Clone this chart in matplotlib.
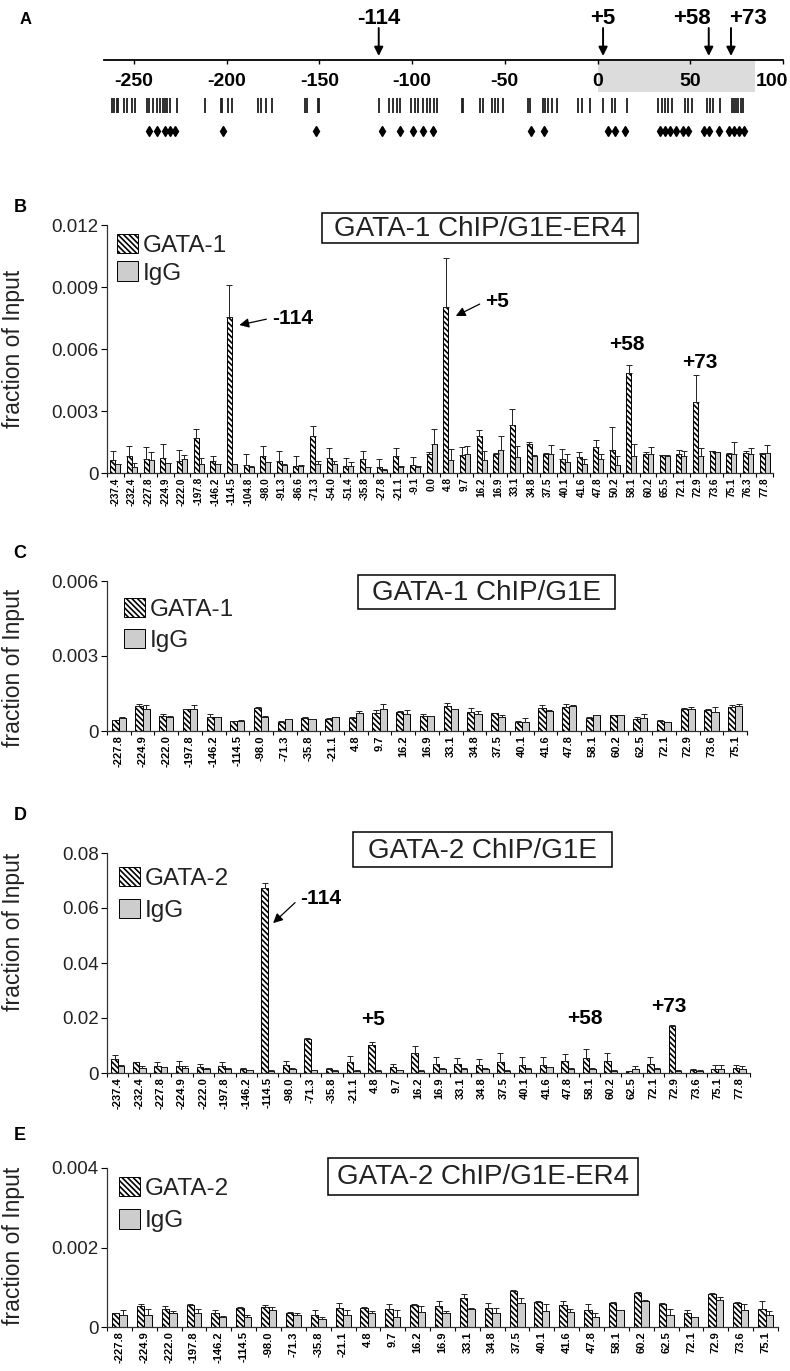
import numpy as np
import matplotlib
matplotlib.use("Agg")
import matplotlib.pyplot as plt

plt.rcParams['font.family'] = ['Liberation Sans', 'DejaVu Sans']
plt.rcParams['hatch.linewidth'] = 1.2

W, H = 790, 1371

# ---- panel A: map of the locus (kb) ----
a_ticks = [-250, -200, -150, -100, -50, 0, 50, 100]
a_site_pos = [-118, 3, 60, 72]
a_site_labels = ['-114', '+5', '+58', '+73']
a_shaded = (0, 85)
a_row1 = [-262.0, -260.8, -259.3, -258.5, -255.2, -253.6, -250.9, -249.5, -243.2, -241.7,
          -239.6, -237.8, -236.0, -234.5, -233.3, -232.0, -230.6, -226.6, -211.7, -203.1,
          -202.4, -199.5, -197.0, -183.0, -181.7, -179.0, -175.7, -157.8, -156.9, -150.6,
          -150.1, -117.7, -112.5, -110.5, -108.3, -106.5, -100.6, -98.4, -96.7, -94.0,
          -92.1, -90.3, -88.2, -86.4, -73.2, -72.7, -63.4, -61.6, -57.1, -55.3, -53.5,
          -50.8, -37.3, -36.4, -29.2, -28.3, -26.5, -24.7, -22.0, -10.4, -8.5, -4.0, 3.1,
          7.7, 9.4, 15.7, 32.8, 34.6, 36.4, 38.2, 40.0, 47.2, 49.0, 50.8, 58.9, 60.7,
          62.5, 66.1, 72.4, 73.6, 74.7, 75.9, 77.2, 78.6]
a_row2 = [-241.9, -237.6, -233.5, -230.8, -228.0, -202.1, -151.6, -116.2, -106.5, -99.7,
          -94.2, -88.7, -36.1, -28.9, 5.4, 9.4, 14.8, 33.7, 36.4, 39.1, 42.3, 46.1, 48.8,
          57.4, 60.1, 65.5, 70.9, 73.6, 76.3, 79.0]

# ---- panel B: GATA-1 ChIP / G1E-ER4 ----
b_pos = ['-237.4', '-232.4', '-227.8', '-224.9', '-222.0', '-197.8', '-146.2', '-114.5',
         '-104.8', '-98.0', '-91.3', '-86.6', '-71.3', '-54.0', '-51.4', '-35.8', '-27.8',
         '-21.1', '-9.1', '0.0', '4.8', '9.7', '16.2', '16.9', '33.1', '34.8', '37.5',
         '40.1', '41.6', '47.8', '50.2', '58.1', '60.2', '65.5', '72.1', '72.9', '73.6',
         '75.1', '76.3', '77.8']
b_gata = [0.00063, 0.00083, 0.00067, 0.00075, 0.00060, 0.00169, 0.00056, 0.00756, 0.00040,
          0.00083, 0.00056, 0.00035, 0.00180, 0.00075, 0.00032, 0.00067, 0.00027, 0.00083,
          0.00039, 0.00094, 0.00805, 0.00086, 0.00178, 0.00094, 0.00231, 0.00139, 0.00094,
          0.00068, 0.00078, 0.00126, 0.00113, 0.00485, 0.00090, 0.00086, 0.00090, 0.00344,
          0.00105, 0.00094, 0.00097, 0.00094]
b_gata_err = [0.00045, 0.00049, 0.00057, 0.00065, 0.00050, 0.00043, 0.00027, 0.00154,
              0.00051, 0.00049, 0.00052, 0.00048, 0.00048, 0.00045, 0.00043, 0.00041,
              0.00043, 0.00037, 0.00040, 0.00006, 0.00234, 0.00040, 0.00032, 0.00003,
              0.00081, 0.00011, 0.00003, 0.00050, 0.00024, 0.00036, 0.00110, 0.00037,
              0.00012, 0.00002, 0.00020, 0.00129, 0.00003, 0.00004, 0.00010, 0.00004]
b_igg = [0.00043, 0.00027, 0.00063, 0.00048, 0.00067, 0.00043, 0.00043, 0.00043, 0.00030,
         0.00051, 0.00040, 0.00035, 0.00043, 0.00043, 0.00035, 0.00027, 0.00016, 0.00030,
         0.00030, 0.00139, 0.00065, 0.00090, 0.00061, 0.00113, 0.00078, 0.00081, 0.00094,
         0.00052, 0.00045, 0.00068, 0.00037, 0.00081, 0.00094, 0.00084, 0.00081, 0.00084,
         0.00102, 0.00094, 0.00094, 0.00097]
b_igg_err = [0.00002, 0.00020, 0.00037, 0.00002, 0.00020, 0.00032, 0.00002, 0.00002,
             0.00002, 0.00002, 0.00002, 0.00002, 0.00017, 0.00017, 0.00016, 0.00002,
             0.00002, 0.00002, 0.00002, 0.00073, 0.00053, 0.00039, 0.00046, 0.00065,
             0.00051, 0.00005, 0.00040, 0.00042, 0.00024, 0.00026, 0.00044, 0.00061,
             0.00032, 0.00002, 0.00026, 0.00039, 0.00002, 0.00056, 0.00027, 0.00037]

# ---- panel C: GATA-1 ChIP / G1E ----
c_pos = ['-227.8', '-224.9', '-222.0', '-197.8', '-146.2', '-114.5', '-98.0', '-71.3',
         '-35.8', '-21.1', '4.8', '9.7', '16.2', '16.9', '33.1', '34.8', '37.5', '40.1',
         '41.6', '47.8', '58.1', '60.2', '62.5', '72.1', '72.9', '73.6', '75.1']
c_gata = [0.00044, 0.00100, 0.00061, 0.00087, 0.00057, 0.00040, 0.00091, 0.00035, 0.00051,
          0.00048, 0.00053, 0.00071, 0.00077, 0.00061, 0.00100, 0.00077, 0.00071, 0.00037,
          0.00093, 0.00095, 0.00053, 0.00064, 0.00048, 0.00040, 0.00087, 0.00084, 0.00095]
c_gata_err = [0.00002, 0.00010, 0.00009, 0.00002, 0.00010, 0.00002, 0.00007, 0.00005,
              0.00007, 0.00005, 0.00002, 0.00013, 0.00002, 0.00009, 0.00013, 0.00014,
              0.00002, 0.00002, 0.00011, 0.00015, 0.00002, 0.00002, 0.00007, 0.00004,
              0.00004, 0.00004, 0.00009]
c_igg = [0.00051, 0.00087, 0.00057, 0.00089, 0.00055, 0.00041, 0.00057, 0.00047, 0.00048,
         0.00055, 0.00071, 0.00088, 0.00068, 0.00060, 0.00087, 0.00068, 0.00055, 0.00035,
         0.00081, 0.00100, 0.00064, 0.00064, 0.00051, 0.00035, 0.00087, 0.00075, 0.00101]
c_igg_err = [0.00006, 0.00017, 0.00002, 0.00015, 0.00002, 0.00002, 0.00002, 0.00002,
             0.00002, 0.00002, 0.00009, 0.00019, 0.00016, 0.00002, 0.00002, 0.00012,
             0.00009, 0.00016, 0.00002, 0.00004, 0.00002, 0.00002, 0.00016, 0.00003,
             0.00010, 0.00022, 0.00009]

# ---- panel D: GATA-2 ChIP / G1E ----
d_pos = ['-237.4', '-232.4', '-227.8', '-224.9', '-222.0', '-197.8', '-146.2', '-114.5',
         '-98.0', '-71.3', '-35.8', '-21.1', '4.8', '9.7', '16.2', '16.9', '33.1', '34.8',
         '37.5', '40.1', '41.6', '47.8', '58.1', '60.2', '62.5', '72.1', '72.9', '73.6',
         '75.1', '77.8']
d_gata = [0.0051, 0.0039, 0.0027, 0.0027, 0.0021, 0.0027, 0.0016, 0.0673, 0.0028, 0.0125,
          0.0015, 0.0039, 0.0101, 0.0022, 0.0073, 0.0033, 0.0033, 0.0030, 0.0040, 0.0030,
          0.0030, 0.0042, 0.0055, 0.0042, 0.0006, 0.0033, 0.0172, 0.0012, 0.0016, 0.0018]
d_gata_err = [0.0016, 0.0002, 0.0013, 0.0018, 0.0012, 0.0013, 0.0004, 0.0017, 0.0014,
              0.0002, 0.0003, 0.0024, 0.0012, 0.0010, 0.0027, 0.0025, 0.0022, 0.0021,
              0.0033, 0.0028, 0.0028, 0.0027, 0.0032, 0.0031, 0.0002, 0.0025, 0.0002,
              0.0003, 0.0012, 0.0010]
d_igg = [0.0024, 0.0018, 0.0021, 0.0018, 0.0015, 0.0016, 0.0010, 0.0008, 0.0016, 0.0010,
         0.0008, 0.0008, 0.0008, 0.0010, 0.0008, 0.0016, 0.0016, 0.0016, 0.0008, 0.0016,
         0.0021, 0.0016, 0.0016, 0.0008, 0.0015, 0.0016, 0.0008, 0.0008, 0.0016, 0.0016]
d_igg_err = [0.0006, 0.0006, 0.0002, 0.0006, 0.0002, 0.0002, 0.0002, 0.0002, 0.0002,
             0.0002, 0.0002, 0.0002, 0.0002, 0.0002, 0.0002, 0.0002, 0.0002, 0.0002,
             0.0002, 0.0002, 0.0002, 0.0002, 0.0002, 0.0002, 0.0009, 0.0002, 0.0002,
             0.0002, 0.0012, 0.0008]

# ---- panel E: GATA-2 ChIP / G1E-ER4 ----
e_pos = ['-227.8', '-224.9', '-222.0', '-197.8', '-146.2', '-114.5', '-98.0', '-71.3',
         '-35.8', '-21.1', '4.8', '9.7', '16.2', '16.9', '33.1', '34.8', '37.5', '40.1',
         '41.6', '47.8', '58.1', '60.2', '62.5', '72.1', '72.9', '73.6', '75.1']
e_gata = [0.00034, 0.00052, 0.00046, 0.00055, 0.00036, 0.00048, 0.00050, 0.00035, 0.00031,
          0.00048, 0.00048, 0.00046, 0.00055, 0.00053, 0.00073, 0.00048, 0.00091, 0.00063,
          0.00056, 0.00042, 0.00061, 0.00086, 0.00059, 0.00036, 0.00084, 0.00061, 0.00046]
e_gata_err = [0.00002, 0.00005, 0.00007, 0.00004, 0.00008, 0.00002, 0.00005, 0.00002,
              0.00011, 0.00013, 0.00002, 0.00013, 0.00002, 0.00013, 0.00011, 0.00013,
              0.00002, 0.00002, 0.00010, 0.00017, 0.00002, 0.00002, 0.00002, 0.00008,
              0.00002, 0.00002, 0.00019]
e_igg = [0.00029, 0.00029, 0.00036, 0.00035, 0.00025, 0.00025, 0.00044, 0.00031, 0.00021,
         0.00031, 0.00035, 0.00024, 0.00038, 0.00034, 0.00046, 0.00034, 0.00061, 0.00040,
         0.00038, 0.00025, 0.00042, 0.00066, 0.00031, 0.00024, 0.00069, 0.00044, 0.00029]
e_igg_err = [0.00013, 0.00017, 0.00004, 0.00011, 0.00003, 0.00004, 0.00006, 0.00003,
             0.00004, 0.00011, 0.00006, 0.00020, 0.00014, 0.00006, 0.00002, 0.00014,
             0.00011, 0.00019, 0.00008, 0.00009, 0.00002, 0.00002, 0.00015, 0.00002,
             0.00007, 0.00015, 0.00011]


fig = plt.figure(figsize=(W / 100, H / 100), dpi=100)


def px_rect(x0, y0, x1, y1):
    return [x0 / W, 1 - y1 / H, (x1 - x0) / W, (y1 - y0) / H]


def fxy(x, y):
    return x / W, 1 - y / H


# panel A
kb_per_px = 1 / 1.854
ax_a = fig.add_axes(px_rect(100, 0, 785, 145))
ax_a.set_xlim((100 - 597.5) * kb_per_px, (785 - 597.5) * kb_per_px)
ax_a.set_ylim(145, 0)
ax_a.axis('off')
ax_a.add_patch(plt.Rectangle((a_shaded[0], 61), a_shaded[1] - a_shaded[0], 31,
                             facecolor='#dcdcdc', edgecolor='none'))
ax_a.plot([-266, 100], [60, 60], color='black', lw=1.3)
ax_a.vlines(a_ticks, 60, 64, color='black', lw=1)
for t in a_ticks[:-1]:
    ax_a.text(t, 81, str(t), ha='center', va='center', fontsize=14, fontweight='bold')
# last label sits a little left of its tick so it stays inside the figure
ax_a.text(a_ticks[-1] + 3, 81, str(a_ticks[-1]), ha='right', va='center', fontsize=14,
          fontweight='bold')
# label offsets (kb) used to keep +58 / +73 apart, as in the original
a_label_shift = [0, 0, -9, 9]
for pos, lab, sh in zip(a_site_pos, a_site_labels, a_label_shift):
    ax_a.annotate('', xy=(pos, 56), xytext=(pos, 28),
                  arrowprops=dict(arrowstyle='-|>', color='black', lw=1.4,
                                  mutation_scale=13, shrinkA=0, shrinkB=0))
    ax_a.text(pos + sh, 18, lab, ha='center', va='center', fontsize=16,
              fontweight='bold')
ax_a.vlines(a_row1, 98, 113, color='#1e1e1e', lw=1.3)
ax_a.plot(a_row2, [131] * len(a_row2), ls='none', marker='d', ms=5, color='black')
fig.text(*fxy(26, 20), 'A', fontsize=12, fontweight='bold', ha='center', va='center')

HATCH = '\\\\\\\\\\\\'


def bar_panel(rect, labels, gata, gata_err, igg, igg_err, ymax, ylabels, name,
              title, box_px, legend_px, lspace, ylab_y, xfont, letter, letter_y, annots):
    ax = fig.add_axes(px_rect(*rect))
    n = len(labels)
    x = np.arange(n)
    w = 0.3
    ax.bar(x - w / 2, gata, w, color='white', edgecolor='black', hatch=HATCH,
           lw=0.7, label=name)
    ax.bar(x + w / 2, igg, w, color='#cdcdcd', edgecolor='black', lw=0.7, label='IgG')
    zeros = np.zeros(n)
    ax.errorbar(x - w / 2, gata, yerr=[zeros, gata_err], fmt='none', ecolor='#222222',
                elinewidth=0.7, capsize=2.2, capthick=0.7)
    ax.errorbar(x + w / 2, igg, yerr=[zeros, igg_err], fmt='none', ecolor='#222222',
                elinewidth=0.7, capsize=2.2, capthick=0.7)
    ax.set_xlim(-0.5, n - 0.5)
    ax.set_ylim(0, ymax)
    ax.spines['top'].set_visible(False)
    ax.spines['right'].set_visible(False)
    for s in ('left', 'bottom'):
        ax.spines[s].set_linewidth(0.9)
        ax.spines[s].set_color('#333333')
    ax.set_yticks(np.linspace(0, ymax, len(ylabels)), ylabels)
    ax.tick_params(axis='y', direction='out', length=4, width=0.8, labelsize=13.5,
                   labelcolor='#222222', pad=2)
    ax.set_xticks(x, labels, rotation=90, fontsize=xfont, fontweight='bold')
    ax.set_xticks(np.arange(n + 1) - 0.5, minor=True)
    ax.tick_params(axis='x', which='major', length=0, pad=3)
    ax.tick_params(axis='x', which='minor', length=3, width=0.8, direction='out')
    ax.set_ylabel('fraction of Input', fontsize=16.5, color='#222222')
    ax.yaxis.set_label_coords((25 - rect[0]) / (rect[2] - rect[0]), ylab_y)
    leg = ax.legend(loc='upper left', bbox_to_anchor=fxy(*legend_px),
                    bbox_transform=fig.transFigure, frameon=False, fontsize=17.5,
                    handlelength=0.85, handleheight=0.85, handletextpad=0.2,
                    labelspacing=lspace, borderpad=0, borderaxespad=0)
    for t in leg.get_texts():
        t.set_color('#222222')
    x0, y0, x1, y1 = box_px
    fig.patches.append(plt.Rectangle(fxy(x0, y1), (x1 - x0) / W, (y1 - y0) / H,
                                     transform=fig.transFigure, fill=False,
                                     ec='black', lw=1.1))
    fig.text(*fxy((x0 + x1) / 2, (y0 + y1) / 2 + 1), title, ha='center', va='center',
             fontsize=20, color='#222222')
    fig.text(*fxy(20, letter_y), letter, fontsize=13, fontweight='bold',
             ha='center', va='center')
    for lab, tip, txt, ha in annots:
        if tip is None:
            ax.text(txt[0], txt[1], lab, ha=ha, va='center', fontsize=15,
                    fontweight='bold')
        else:
            ax.annotate(lab, xy=tip, xytext=txt, ha=ha, va='center', fontsize=15,
                        fontweight='bold',
                        arrowprops=dict(arrowstyle='-|>', color='black', lw=0.9,
                                        mutation_scale=14, shrinkA=2, shrinkB=0,
                                        relpos=(0, 0.5)))
    return ax


bar_panel((107, 225, 773, 473), b_pos, b_gata, b_gata_err, b_igg, b_igg_err, 0.012,
          ['0', '0.003', '0.006', '0.009', '0.012'], 'GATA-1', 'GATA-1 ChIP/G1E-ER4',
          (322, 213, 638, 243), (117, 234), 0.18, 0.5, 7.2, 'B', 207,
          [('-114', (7.45, 0.00716), (9.4, 0.0075), 'left'),
           ('+5', (20.45, 0.0076), (22.2, 0.0083), 'left'),
           ('+58', None, (30.7, 0.0062), 'center'),
           ('+73', None, (35.1, 0.00536), 'center')])

bar_panel((107, 581, 747, 731), c_pos, c_gata, c_gata_err, c_igg, c_igg_err, 0.006,
          ['0', '0.003', '0.006'], 'GATA-1', 'GATA-1 ChIP/G1E',
          (358, 575, 615, 609), (124, 598), 0.32, 0.42, 8, 'C', 553, [])

bar_panel((107, 853, 750, 1073), d_pos, d_gata, d_gata_err, d_igg, d_igg_err, 0.08,
          ['0', '0.02', '0.04', '0.06', '0.08'], 'GATA-2', 'GATA-2 ChIP/G1E',
          (353, 832, 612, 867), (119, 867), 0.35, 0.64, 8, 'D', 815,
          [('-114', (7.25, 0.0545), (8.5, 0.0636), 'left'),
           ('+5', None, (11.9, 0.0193), 'center'),
           ('+58', None, (21.8, 0.0200), 'center'),
           ('+73', None, (25.7, 0.0240), 'center')])

bar_panel((107, 1168, 778, 1327), e_pos, e_gata, e_gata_err, e_igg, e_igg_err, 0.004,
          ['0', '0.002', '0.004'], 'GATA-2', 'GATA-2 ChIP/G1E-ER4',
          (328, 1158, 638, 1195), (119, 1177), 0.38, 0.51, 8, 'E', 1135, [])

fig.savefig('out.png', dpi=100)
